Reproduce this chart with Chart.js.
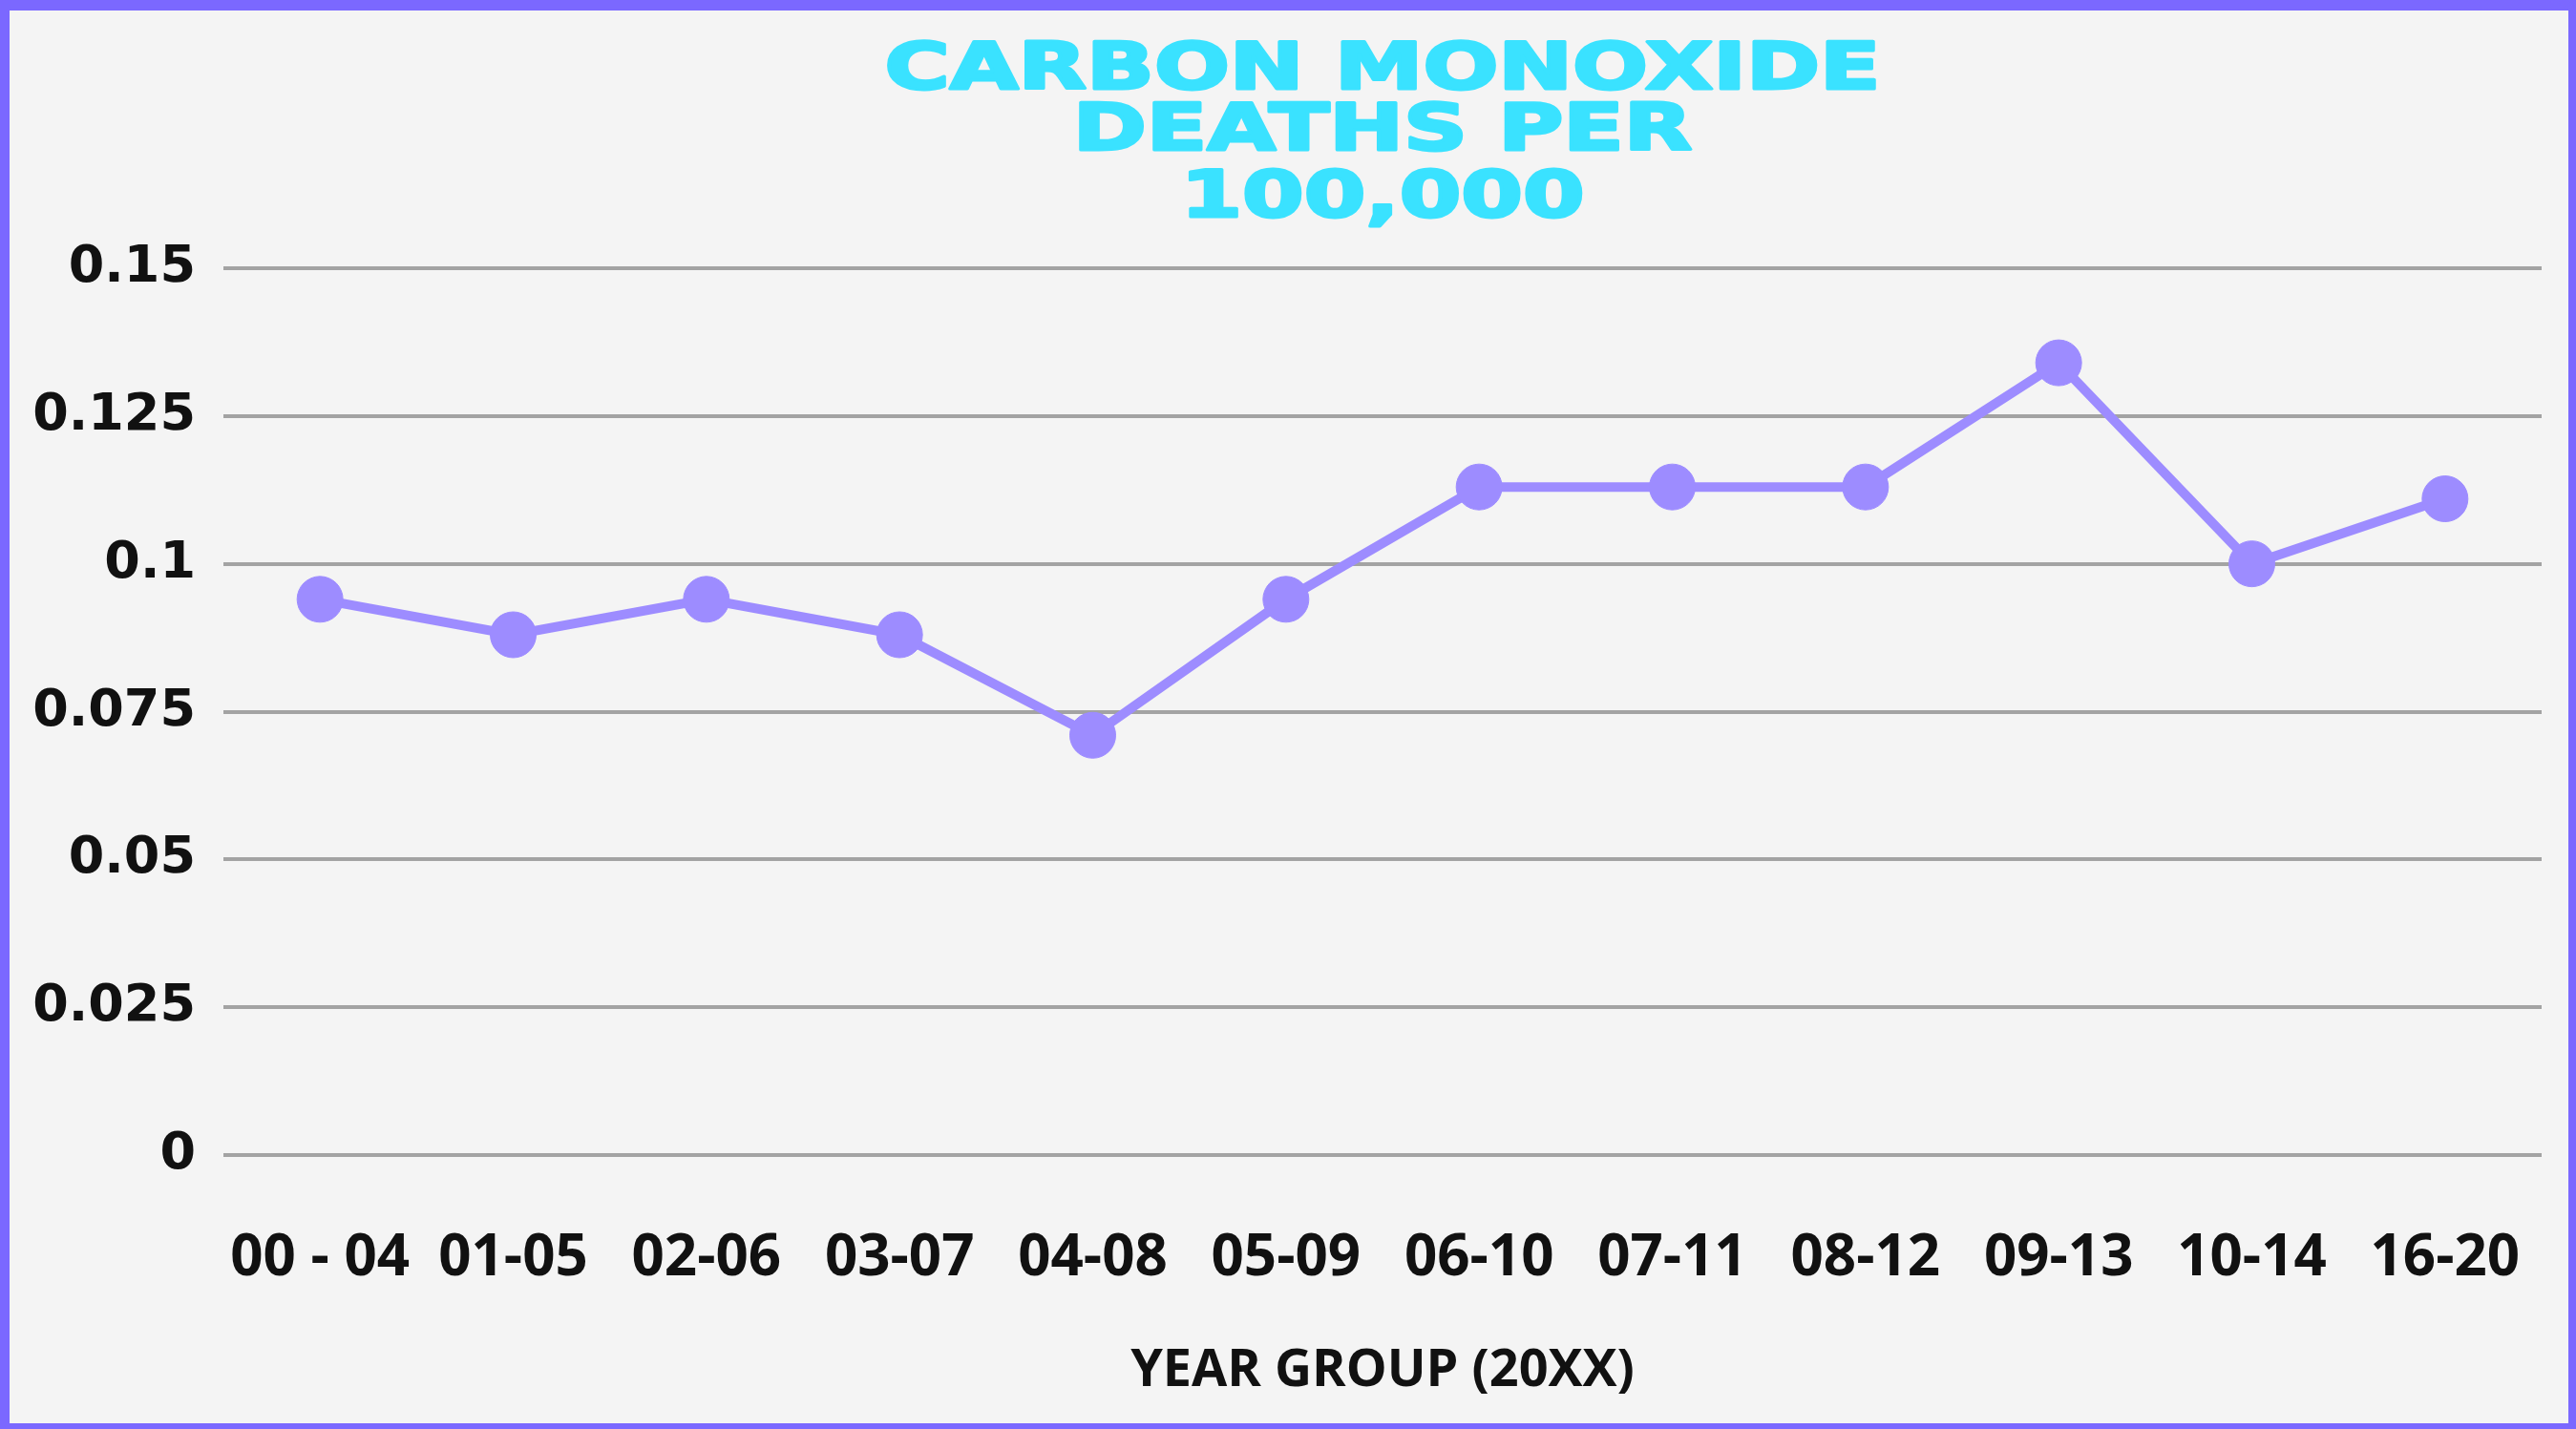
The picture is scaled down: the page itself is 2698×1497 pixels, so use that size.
<!DOCTYPE html>
<html>
<head>
<meta charset="utf-8">
<script src="https://cdn.jsdelivr.net/npm/chart.js@4.4.1/dist/chart.umd.min.js"></script>
<style>
  html, body { margin: 0; padding: 0; background: #7b68ff; }
  #frame {
    position: absolute; left: 0; top: 0;
    width: 2698px; height: 1497px;
    box-sizing: border-box;
    border-style: solid; border-color: #7b68ff;
    border-width: 11px 8px 6px 10px;
    background: #f4f4f4;
  }
  #wrap { position: relative; width: 100%; height: 100%; }
</style>
</head>
<body>
<div id="frame"><div id="wrap"><canvas id="graficoMonoxido"></canvas></div></div>
<script>
const titleLines = ["CARBON MONOXIDE", "DEATHS PER", "100,000"];
const yearGroups = ["00 - 04", "01-05", "02-06", "03-07", "04-08", "05-09",
                    "06-10", "07-11", "08-12", "09-13", "10-14", "16-20"];
const deathRates = [0.094, 0.088, 0.094, 0.088, 0.071, 0.094,
                    0.113, 0.113, 0.113, 0.134, 0.100, 0.111];
const yTickLabels = ["0", "0.025", "0.05", "0.075", "0.1", "0.125", "0.15"];
const xAxisTitle = "YEAR GROUP (20XX)";

const ctx = document.getElementById('graficoMonoxido');

// title is drawn by hand so it can be stretched sideways like the original
const stretchedTitle = {
  id: 'stretchedTitle',
  afterDraw(chart) {
    const c = chart.ctx;
    const {left, right} = chart.chartArea;
    const cx = (left + right) / 2;
    const baselines = [82, 146, 216];
    c.save();
    c.font = 'bold 68px "DejaVu Sans"';
    c.fillStyle = '#3ae2ff';
    c.strokeStyle = '#3ae2ff';
    c.lineWidth = 3;
    c.lineJoin = 'round';
    c.textAlign = 'center';
    c.textBaseline = 'alphabetic';
    const stretch = 1043 / c.measureText(titleLines[0]).width;
    titleLines.forEach((line, i) => {
      c.save();
      c.translate(cx, baselines[i]);
      c.scale(stretch, 1);
      c.fillText(line, 0, 0);
      c.strokeText(line, 0, 0);
      c.restore();
    });
    c.restore();
  }
};

new Chart(ctx, {
  type: 'line',
  data: {
    labels: yearGroups,
    datasets: [{
      data: deathRates,
      borderColor: '#9d8cff',
      backgroundColor: '#9d8cff',
      borderWidth: 10,
      pointRadius: 24,
      pointHoverRadius: 24,
      pointBorderWidth: 1,
      pointBackgroundColor: '#9d8cff',
      pointBorderColor: '#9d8cff',
      tension: 0,
      fill: false
    }]
  },
  options: {
    responsive: true,
    maintainAspectRatio: false,
    animation: false,
    layout: { padding: { top: 270, right: 28, bottom: 0, left: 0 } },
    plugins: {
      legend: { display: false },
      title: { display: false },
      tooltip: { enabled: false }
    },
    scales: {
      x: {
        offset: true,
        grid: { display: false, drawTicks: true, tickLength: 73 },
        border: { display: false },
        ticks: {
          color: '#111',
          padding: 0,
          maxRotation: 0,
          autoSkip: false,
          font: { family: '"Open Sans"', weight: 'bold', size: 60 }
        },
        title: {
          display: true,
          text: xAxisTitle,
          color: '#111',
          padding: { top: 0, bottom: 22 },
          font: { family: '"Open Sans"', weight: 'bold', size: 54 }
        },
        afterFit(scale) { scale.height = 281; }
      },
      y: {
        min: 0,
        max: 0.15,
        grid: { color: '#a3a3a3', lineWidth: 4, drawTicks: false },
        border: { display: false },
        ticks: {
          stepSize: 0.025,
          color: '#111',
          padding: 29,
          font: { family: '"DejaVu Sans"', weight: 'bold', size: 54 },
          callback: (v, i) => yTickLabels[i]
        },
        afterFit(scale) { scale.width = 224; }
      }
    }
  },
  plugins: [stretchedTitle]
});
</script>
</body>
</html>
